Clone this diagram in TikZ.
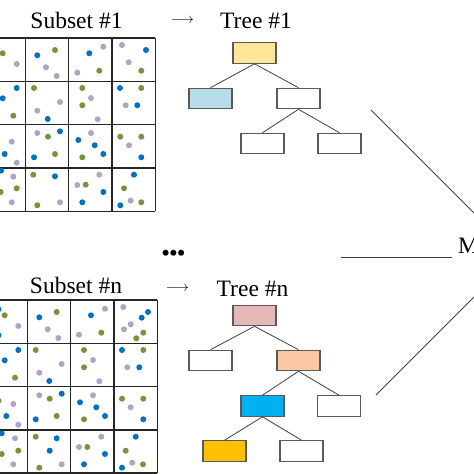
\documentclass[tikz,border=0pt]{standalone}
\usepackage{fontspec}
\setmainfont{Liberation Serif}
\definecolor{dgreen}{HTML}{77933C}
\definecolor{dblue}{HTML}{0070C0}
\definecolor{dlav}{HTML}{B3A2C7}
\definecolor{edgec}{HTML}{404040}
\definecolor{boxc}{HTML}{595959}
\definecolor{fyellow}{HTML}{FFE699}
\definecolor{flblue}{HTML}{B7DDE8}
\definecolor{fpink}{HTML}{E6B9B8}
\definecolor{forange}{HTML}{FAC8A5}
\definecolor{fcyan}{HTML}{00B0F0}
\definecolor{fgold}{HTML}{FFC000}
\begin{document}
\begin{tikzpicture}[x=1pt,y=-1pt,
  tbox/.style={draw=boxc,line width=1.1pt,minimum width=43pt,minimum height=20.5pt,inner sep=0pt,fill=white},
  tedge/.style={draw=edgec,line width=0.8pt},
  gridl/.style={draw=black!85,line width=1.2pt},
  lab/.style={font=\fontsize{23.5}{26}\selectfont,anchor=base,inner sep=0pt},
  arr/.style={font=\fontsize{15.5}{18}\selectfont,anchor=base,inner sep=0pt},
  gdot/.style={fill=dgreen},
  bdot/.style={fill=dblue},
  ldot/.style={fill=dlav},
  mjoin/.style={draw=edgec,line width=0.8pt}]
\clip (0,0) rectangle (474,474);
\fill[white] (0,0) rectangle (474,474);

% ---------- labels ----------
\node[lab] (s1) at (76.5,28) {Subset \#1};
\node[arr] (ar1) at (182.5,23) {$\longrightarrow$};
\node[lab] (t1) at (256,28) {Tree \#1};
\node[lab] (sn) at (76,293.3) {Subset \#n};
\node[arr] (arn) at (177.5,291) {$\longrightarrow$};
\node[lab] (tn) at (252.5,296.5) {Tree \#n};
\node[font=\fontsize{22}{24}\selectfont\bfseries,anchor=center,inner sep=0pt] (dots) at (173.5,255) {\textbullet\textbullet\textbullet};
\node[lab,anchor=base west] (m) at (458,253.5) {M};

% ---------- top grid ----------
\foreach \yy in {38,81.3,124.7,168,211.3} \draw[gridl] (-20,\yy) -- (155.3,\yy);
\foreach \xx in {25.3,68.7,112,155.3} \draw[gridl] (\xx,38) -- (\xx,211.3);
\foreach \x/\y in {2.7/53.3,55/50,99.3/70.7,141.3/70.7,13.3/115.7,34/88,82.3/88,82.3/105.3,141.3/88,48/136.7,55/154,82.3/157.3,120.3/136.7,141.3/136.7,16.7/188.3,0.7/192,33.3/174.7,37.3/205.3,85.7/184.7,124/188.3,141.3/202.3}
  \fill[gdot] (\x,\y) circle[radius=3pt];
\foreach \x/\y in {37.3/55.3,89.3/53.3,146/50,16.7/88,2.7/98.3,47.7/119,120/88,137.3/105.3,4.7/154,60/131.3,34/157.3,78.3/140,94.7/145.3,103.3/154,141.3/157.3,1/170.7,55/176.3,103.3/192,82.3/202.3,134/174.7,120.3/205.3}
  \fill[bdot] (\x,\y) circle[radius=3pt];
\foreach \x/\y in {16.7/64,46/67.3,56.7/76,103.3/46.7,77.3/72.7,122/45,128.7/62.3,60/102,37.3/110.7,91/98,97.7/119.3,125.7/105.3,11.7/141.7,16.7/162.7,37.3/133,91/133,129/145.3,13.3/176.7,11.7/202.3,60/202.3,99.3/174.7,77.3/185,130.7/200.7}
  \fill[ldot] (\x,\y) circle[radius=3pt];

% ---------- bottom grid ----------
\foreach \yy in {300,343.3,386.7,430,473} \draw[gridl] (-20,\yy) -- (157.3,\yy);
\foreach \xx in {27.3,70.7,114,157.3} \draw[gridl] (\xx,300) -- (\xx,473);
\foreach \x/\y in {4.7/315.3,56.7/312,101.3/332.7,143.3/332.7,136.3/338.3,15/377.7,35.7/350,84/350,84/367.3,143.3/350,49.7/398.7,56.7/416,84/419.3,122/398.7,143.3/398.7,18.3/450.7,1.7/454,35.7/436.7,39.3/467.7,87.3/447,125.7/450.7,143/464.3,-1.5/400.7}
  \fill[gdot] (\x,\y) circle[radius=3pt];
\foreach \x/\y in {39.3/317.3,91/315.3,148/312,141.7/317.7,18.3/350,4.7/360.3,49.3/381,122/350,139.3/367.3,6.3/416,61.7/393.7,35.7/419.3,80/402.3,96.3/407.3,105/416,143.3/419.3,1.7/433.3,56.7/438.3,49.7/450.7,105/454,84/464.3,135.7/436.7,122/467.7,-1.5/309.3,-1.5/335.3}
  \fill[bdot] (\x,\y) circle[radius=3pt];
\foreach \x/\y in {18.3/326,47.7/329.3,58.3/338,105/308.7,79/334.7,123.3/307,130.7/324.3,124/329.3,61.7/364,39.3/372.7,93/360,99.3/381.3,127.3/367.3,13.3/404,18.3/424.7,39.3/395.3,93/395.3,130.7/407.3,15/438.3,13.3/464.3,61.7/464.3,101.3/436.7,79/447,132.3/462.7}
  \fill[ldot] (\x,\y) circle[radius=3pt];

% ---------- tree 1 ----------
\node[tbox,fill=fyellow] (r1) at (254.5,53) {};
\node[tbox,fill=flblue] (a1) at (210.5,98.5) {};
\node[tbox] (b1) at (298.5,98.5) {};
\node[tbox] (c1) at (262.5,143.5) {};
\node[tbox] (d1) at (339.5,143.5) {};
\draw[tedge] (r1.south) -- (a1.north);
\draw[tedge] (r1.south) -- (b1.north);
\draw[tedge] (b1.south) -- (c1.north);
\draw[tedge] (b1.south) -- (d1.north);

% ---------- tree n ----------
\node[tbox,fill=fpink] (r2) at (254.5,315.5) {};
\node[tbox] (a2) at (210.5,360.5) {};
\node[tbox,fill=forange] (b2) at (298.5,360.5) {};
\node[tbox,fill=fcyan] (c2) at (262.5,406) {};
\node[tbox] (d2) at (339,406) {};
\node[tbox,fill=fgold] (e2) at (224.5,451) {};
\node[tbox] (f2) at (301.5,451) {};
\draw[tedge] (r2.south) -- (a2.north);
\draw[tedge] (r2.south) -- (b2.north);
\draw[tedge] (b2.south) -- (c2.north);
\draw[tedge] (b2.south) -- (d2.north);
\draw[tedge] (c2.south) -- (e2.north);
\draw[tedge] (c2.south) -- (f2.north);

% ---------- joins to M ----------
\coordinate (u1) at (371,110);
\coordinate (u2) at (474,213);
\coordinate (h1) at (341,257);
\coordinate (h2) at (452,257);
\coordinate (l1) at (376,395);
\coordinate (l2) at (474,297);
\draw[mjoin] (u1) -- (u2);
\draw[mjoin] (h1) -- (h2);
\draw[mjoin] (l1) -- (l2);
\end{tikzpicture}
\end{document}
